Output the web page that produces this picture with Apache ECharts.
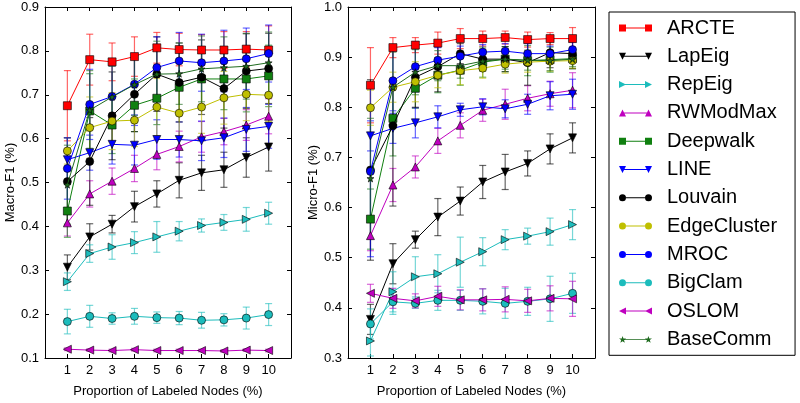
<!DOCTYPE html>
<html>
<head>
<meta charset="utf-8">
<script src="https://cdn.jsdelivr.net/npm/echarts@6/dist/echarts.min.js"></script>
<style>
html,body{margin:0;padding:0;background:#fff;}
#chart{width:800px;height:403px;}
</style>
</head>
<body>
<div id="chart"></div>
<script>
// x categories (Proportion of labeled nodes, %)
const xs = [1, 2, 3, 4, 5, 6, 7, 8, 9, 10];
const methodNames = ['ARCTE','LapEig','RepEig','RWModMax','Deepwalk','LINE','Louvain','EdgeCluster','MROC','BigClam','OSLOM','BaseComm'];
const macroTicks = [0.1,0.2,0.3,0.4,0.5,0.6,0.7,0.8,0.9];
const microTicks = [0.3,0.4,0.5,0.6,0.7,0.8,0.9,1.0];

// Macro-F1 means
const macro_ARCTE       = [0.675,0.780,0.775,0.787,0.807,0.803,0.802,0.802,0.804,0.802];
const macro_LapEig      = [0.307,0.376,0.405,0.445,0.474,0.505,0.522,0.529,0.557,0.581];
const macro_RepEig      = [0.274,0.338,0.353,0.363,0.376,0.389,0.402,0.409,0.416,0.430];
const macro_RWModMax    = [0.408,0.474,0.503,0.532,0.564,0.582,0.604,0.616,0.631,0.651];
const macro_Deepwalk    = [0.435,0.663,0.631,0.676,0.692,0.717,0.736,0.736,0.736,0.743];
const macro_LINE        = [0.552,0.568,0.587,0.585,0.598,0.598,0.595,0.602,0.621,0.628];
const macro_Louvain     = [0.502,0.548,0.652,0.701,0.747,0.728,0.740,0.714,0.754,0.760];
const macro_EdgeCluster = [0.572,0.625,0.640,0.642,0.672,0.658,0.672,0.693,0.701,0.699];
const macro_MROC        = [0.532,0.678,0.696,0.724,0.762,0.777,0.773,0.777,0.782,0.794];
const macro_BigClam     = [0.183,0.195,0.190,0.195,0.192,0.191,0.186,0.187,0.191,0.199];
const macro_OSLOM       = [0.120,0.118,0.117,0.119,0.117,0.117,0.117,0.116,0.118,0.117];
const macro_BaseComm    = [0.495,0.665,0.695,0.723,0.747,0.748,0.759,0.762,0.765,0.773];

// Macro-F1 error bar half-widths
const macroErr_ARCTE       = [0.080,0.058,0.043,0.045,0.035,0.037,0.035,0.042,0.040,0.055];
const macroErr_LapEig      = [0.028,0.030,0.020,0.035,0.030,0.040,0.040,0.040,0.045,0.055];
const macroErr_RepEig      = [0.020,0.020,0.028,0.025,0.035,0.022,0.015,0.018,0.027,0.025];
const macroErr_RWModMax    = [0.030,0.030,0.030,0.030,0.035,0.035,0.035,0.030,0.035,0.040];
const macroErr_Deepwalk    = [0.060,0.085,0.065,0.060,0.060,0.060,0.065,0.070,0.075,0.070];
const macroErr_LINE        = [0.050,0.040,0.045,0.045,0.045,0.040,0.045,0.045,0.050,0.050];
const macroErr_Louvain     = [0.100,0.100,0.100,0.085,0.085,0.090,0.085,0.090,0.085,0.080];
const macroErr_EdgeCluster = [0.030,0.070,0.065,0.060,0.065,0.060,0.060,0.060,0.060,0.060];
const macroErr_MROC        = [0.070,0.080,0.070,0.070,0.070,0.065,0.065,0.070,0.070,0.065];
const macroErr_BigClam     = [0.028,0.025,0.013,0.018,0.013,0.015,0.018,0.014,0.025,0.025];
const macroErr_OSLOM       = [0.003,0.003,0.003,0.003,0.003,0.003,0.003,0.003,0.003,0.003];
const macroErr_BaseComm    = [0.090,0.090,0.070,0.070,0.075,0.070,0.075,0.070,0.075,0.070];

// Micro-F1 means
const micro_ARCTE       = [0.844,0.919,0.924,0.928,0.937,0.937,0.939,0.935,0.937,0.937];
const micro_LapEig      = [0.377,0.488,0.536,0.581,0.613,0.651,0.671,0.688,0.717,0.739];
const micro_RepEig      = [0.334,0.432,0.462,0.468,0.491,0.512,0.536,0.543,0.552,0.566];
const micro_RWModMax    = [0.544,0.645,0.681,0.733,0.764,0.794,0.806,0.818,0.827,0.834];
const micro_Deepwalk    = [0.577,0.778,0.838,0.864,0.874,0.890,0.896,0.893,0.895,0.897];
const micro_LINE        = [0.743,0.758,0.769,0.781,0.795,0.801,0.797,0.806,0.823,0.826];
const micro_Louvain     = [0.675,0.763,0.860,0.881,0.907,0.896,0.896,0.889,0.909,0.907];
const micro_EdgeCluster = [0.799,0.840,0.851,0.864,0.873,0.878,0.886,0.890,0.892,0.893];
const micro_MROC        = [0.672,0.853,0.881,0.894,0.902,0.910,0.912,0.907,0.907,0.915];
const micro_BigClam     = [0.368,0.412,0.409,0.415,0.415,0.413,0.409,0.413,0.418,0.429];
const micro_OSLOM       = [0.429,0.419,0.414,0.423,0.416,0.416,0.417,0.414,0.419,0.418];
const micro_BaseComm    = [0.658,0.840,0.870,0.883,0.883,0.892,0.896,0.894,0.893,0.896];

// Micro-F1 error bar half-widths
const microErr_ARCTE       = [0.075,0.020,0.015,0.022,0.020,0.015,0.013,0.015,0.012,0.022];
const microErr_LapEig      = [0.030,0.040,0.017,0.037,0.028,0.033,0.035,0.025,0.030,0.030];
const microErr_RepEig      = [0.030,0.040,0.040,0.038,0.050,0.028,0.020,0.016,0.027,0.030];
const microErr_RWModMax    = [0.030,0.033,0.022,0.025,0.025,0.022,0.030,0.025,0.025,0.035];
const microErr_Deepwalk    = [0.060,0.075,0.040,0.035,0.030,0.030,0.025,0.030,0.025,0.020];
const microErr_LINE        = [0.030,0.030,0.030,0.022,0.013,0.016,0.018,0.020,0.028,0.030];
const microErr_Louvain     = [0.180,0.160,0.060,0.050,0.020,0.020,0.025,0.045,0.030,0.030];
const microErr_EdgeCluster = [0.035,0.030,0.040,0.025,0.028,0.020,0.018,0.020,0.020,0.015];
const microErr_MROC        = [0.170,0.060,0.050,0.025,0.020,0.015,0.015,0.020,0.015,0.015];
const microErr_BigClam     = [0.030,0.025,0.010,0.020,0.020,0.025,0.030,0.028,0.045,0.040];
const microErr_OSLOM       = [0.018,0.020,0.014,0.020,0.020,0.022,0.025,0.023,0.025,0.035];
const microErr_BaseComm    = [0.120,0.070,0.045,0.030,0.025,0.020,0.020,0.020,0.020,0.015];

const STAR = 'path://M0,-10L2.35,-3.24L9.51,-3.09L3.8,1.24L5.88,8.09L0,4L-5.88,8.09L-3.8,1.24L-9.51,-3.09L-2.35,-3.24Z';

// legend icons: a line with a marker at each end (matplotlib style)
const IC = {
  rect: 'path://M0,0.5H7V3.5H26V0.5H33V7.5H26V4.5H7V7.5H0Z',
  circle: 'path://M0,4a3.5,3.5 0 1,1 7,0a3.5,3.5 0 1,1 -7,0ZM7,3.5H26V4.5H7ZM26,4a3.5,3.5 0 1,1 7,0a3.5,3.5 0 1,1 -7,0Z',
  down: 'path://M0,0.5L7,0.5L3.5,7.5ZM3.5,3.5H29.5V4.5H3.5ZM26,0.5L33,0.5L29.5,7.5Z',
  up: 'path://M3.5,0.5L7,7.5L0,7.5ZM3.5,3.5H29.5V4.5H3.5ZM29.5,0.5L33,7.5L26,7.5Z',
  right: 'path://M0,0.5L7,4L0,7.5ZM3,3.5H29V4.5H3ZM26,0.5L33,4L26,7.5Z',
  left: 'path://M7,0.5L7,7.5L0,4ZM4,3.5H30V4.5H4ZM33,0.5L33,7.5L26,4Z',
  star: 'path://M3.7,0.2L4.58,2.79L7.31,2.83L5.13,4.46L5.93,7.07L3.7,5.5L1.47,7.07L2.27,4.46L0.09,2.83L2.82,2.79ZM5,3.6H28V4.4H5ZM29.7,0.2L30.58,2.79L33.31,2.83L31.13,4.46L31.93,7.07L29.7,5.5L27.47,7.07L28.27,4.46L26.09,2.83L28.82,2.79Z'
};

const styles = {
  ARCTE:       {color:'#ff0000', symbol:'rect',     rot:0,   size:8, icon:IC.rect},
  LapEig:      {color:'#000000', symbol:'triangle', rot:180, size:8, icon:IC.down},
  RepEig:      {color:'#1cbcbc', symbol:'triangle', rot:-90, size:8, icon:IC.right},
  RWModMax:    {color:'#bf00bf', symbol:'triangle', rot:0,   size:8, icon:IC.up},
  Deepwalk:    {color:'#108010', symbol:'rect',     rot:0,   size:8, icon:IC.rect},
  LINE:        {color:'#0000ff', symbol:'triangle', rot:180, size:8, icon:IC.down},
  Louvain:     {color:'#000000', symbol:'circle',   rot:0,   size:8, icon:IC.circle},
  EdgeCluster: {color:'#bfbf00', symbol:'circle',   rot:0,   size:8, icon:IC.circle},
  MROC:        {color:'#0000ff', symbol:'circle',   rot:0,   size:8, icon:IC.circle},
  BigClam:     {color:'#1cbcbc', symbol:'circle',   rot:0,   size:8, icon:IC.circle},
  OSLOM:       {color:'#bf00bf', symbol:'triangle', rot:90,  size:8, icon:IC.left},
  BaseComm:    {color:'#1f6b1f', symbol:STAR,       rot:0,   size:7, icon:IC.star}
};

const macroMeans = {ARCTE:macro_ARCTE,LapEig:macro_LapEig,RepEig:macro_RepEig,RWModMax:macro_RWModMax,Deepwalk:macro_Deepwalk,LINE:macro_LINE,Louvain:macro_Louvain,EdgeCluster:macro_EdgeCluster,MROC:macro_MROC,BigClam:macro_BigClam,OSLOM:macro_OSLOM,BaseComm:macro_BaseComm};
const macroErrs = {ARCTE:macroErr_ARCTE,LapEig:macroErr_LapEig,RepEig:macroErr_RepEig,RWModMax:macroErr_RWModMax,Deepwalk:macroErr_Deepwalk,LINE:macroErr_LINE,Louvain:macroErr_Louvain,EdgeCluster:macroErr_EdgeCluster,MROC:macroErr_MROC,BigClam:macroErr_BigClam,OSLOM:macroErr_OSLOM,BaseComm:macroErr_BaseComm};
const microMeans = {ARCTE:micro_ARCTE,LapEig:micro_LapEig,RepEig:micro_RepEig,RWModMax:micro_RWModMax,Deepwalk:micro_Deepwalk,LINE:micro_LINE,Louvain:micro_Louvain,EdgeCluster:micro_EdgeCluster,MROC:micro_MROC,BigClam:micro_BigClam,OSLOM:micro_OSLOM,BaseComm:micro_BaseComm};
const microErrs = {ARCTE:microErr_ARCTE,LapEig:microErr_LapEig,RepEig:microErr_RepEig,RWModMax:microErr_RWModMax,Deepwalk:microErr_Deepwalk,LINE:microErr_LINE,Louvain:microErr_Louvain,EdgeCluster:microErr_EdgeCluster,MROC:microErr_MROC,BigClam:microErr_BigClam,OSLOM:microErr_OSLOM,BaseComm:microErr_BaseComm};

function errRender(color) {
  return function (params, api) {
    const x = api.value(0), lo = api.value(1), hi = api.value(2);
    const p1 = api.coord([x, lo]), p2 = api.coord([x, hi]);
    const w = 3.5;
    const st = {stroke: color, lineWidth: 1.2, opacity: 0.6};
    return {type:'group', children:[
      {type:'line', shape:{x1:p1[0], y1:p1[1], x2:p2[0], y2:p2[1]}, style:st},
      {type:'line', shape:{x1:p1[0]-w, y1:p1[1], x2:p1[0]+w, y2:p1[1]}, style:st},
      {type:'line', shape:{x1:p2[0]-w, y1:p2[1], x2:p2[0]+w, y2:p2[1]}, style:st}
    ]};
  };
}

const series = [];
function addPanel(axisIdx, means, errs) {
  methodNames.forEach((name, k) => {
    const s = styles[name];
    const m = means[name], e = errs[name];
    series.push({
      type:'custom', name: name + ' error', xAxisIndex: axisIdx, yAxisIndex: axisIdx,
      data: xs.map((x,i) => [x, m[i]-e[i], m[i]+e[i]]),
      renderItem: errRender(s.color), clip: true, silent: true, z: 2 + k*0.01,
      encode: {x:0, y:[1,2]}
    });
    series.push({
      type:'line', name, xAxisIndex: axisIdx, yAxisIndex: axisIdx,
      data: xs.map((x,i) => [x, m[i]]),
      symbol: s.symbol, symbolRotate: s.rot, symbolSize: s.size, showSymbol: true,
      lineStyle: {color: s.color, width: 1},
      itemStyle: {color: s.color, borderColor: '#000', borderWidth: 0.6},
      emphasis: {disabled: true},
      z: 3 + k*0.01
    });
  });
}
addPanel(0, macroMeans, macroErrs);
addPanel(2, microMeans, microErrs);

const FONT = 'Liberation Sans, Arial, sans-serif';
function xAx(gridIndex, pos, show) {
  return {
    type:'value', gridIndex, position: pos, min:0, max:11, interval:1,
    axisLine:{show:true, onZero:false, lineStyle:{color:'#000', width:1}},
    axisTick:{show:true, inside:true, length:4, lineStyle:{color:'#000'}},
    splitLine:{show:false},
    axisLabel:{show:show, color:'#000', fontSize:13, fontFamily:FONT, margin:6,
      formatter: v => (v >= 1 && v <= 10) ? String(v) : ''},
    name: show ? 'Proportion of Labeled Nodes (%)' : '',
    nameLocation:'middle', nameGap: 27,
    nameTextStyle:{color:'#000', fontSize:13, fontFamily:FONT}
  };
}
function yAx(gridIndex, pos, show, min, max, title) {
  return {
    type:'value', gridIndex, position: pos, min, max, interval:0.1,
    axisLine:{show:true, onZero:false, lineStyle:{color:'#000', width:1}},
    axisTick:{show:true, inside:true, length:4, lineStyle:{color:'#000'}},
    splitLine:{show:false},
    axisLabel:{show:show, color:'#000', fontSize:13, fontFamily:FONT, margin:6,
      formatter: v => v.toFixed(1)},
    name: show ? title : '',
    nameLocation:'middle', nameGap: 28, nameRotate: 90,
    nameTextStyle:{color:'#000', fontSize:13, fontFamily:FONT}
  };
}

const option = {
  animation:false,
  backgroundColor:'#fff',
  textStyle:{fontFamily:FONT},
  grid:[
    {left:45, top:7, width:246, height:358},
    {left:348, top:7, width:247, height:358}
  ],
  xAxis:[xAx(0,'bottom',true), xAx(0,'top',false), xAx(1,'bottom',true), xAx(1,'top',false)],
  yAxis:[
    yAx(0,'left',true, macroTicks[0], macroTicks[macroTicks.length-1], 'Macro-F1 (%)'),
    yAx(0,'right',false, macroTicks[0], macroTicks[macroTicks.length-1], ''),
    yAx(1,'left',true, microTicks[0], microTicks[microTicks.length-1], 'Micro-F1 (%)'),
    yAx(1,'right',false, microTicks[0], microTicks[microTicks.length-1], '')
  ],
  legend:{
    data: methodNames.map(n => ({name:n, icon: styles[n].icon})),
    orient:'vertical', left:609, top:12,
    itemWidth:33, itemHeight:8, itemGap:8.3,
    symbolRotate: 0,
    itemStyle:{borderWidth:0},
    padding:[6, 18, 6, 10],
    borderColor:'#000', borderWidth:1,
    textStyle:{color:'#000', fontSize:20, fontFamily:FONT, padding:[0,0,0,10]},
    selectedMode:false
  },
  series
};

const chart = echarts.init(document.getElementById('chart'), null, {renderer:'canvas'});
chart.setOption(option);
</script>
</body>
</html>
